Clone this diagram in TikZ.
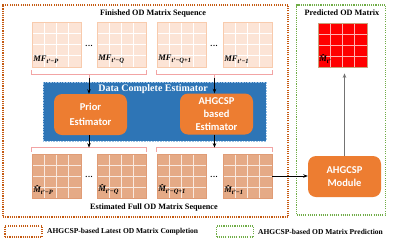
\documentclass[tikz,border=0pt]{standalone}
\usepackage{fontspec}
\setmainfont{Liberation Serif}
\newfontfamily\boxfont{Carlito}
\usetikzlibrary{arrows.meta,calc}
\definecolor{topfill}{HTML}{FCE4D6}
\definecolor{topborder}{HTML}{F8CBAD}
\definecolor{botfill}{HTML}{E5AA86}
\definecolor{botborder}{HTML}{E09C76}
\definecolor{predborder}{HTML}{C8A27C}
\definecolor{bluefill}{HTML}{2E75B6}
\definecolor{blueborder}{HTML}{9DC3E6}
\definecolor{orangebox}{HTML}{ED7D31}
\definecolor{brkcol}{HTML}{F2A4A4}
\definecolor{orangedot}{HTML}{C55A11}
\definecolor{greendot}{HTML}{70AD47}
\newcommand{\mhat}{\^{M}}
\newcommand{\lsub}[1]{\raisebox{-2pt}{\fontsize{6.5}{6.5}\selectfont #1}}
\begin{document}
\begin{tikzpicture}[x=1pt,y=-1pt,
  gridded/.style={path picture={
    \coordinate (gsw) at (path picture bounding box.south west);
    \coordinate (gne) at (path picture bounding box.north east);
    \foreach \f in {0.25,0.5,0.75}{
      \draw[#1, line width=0.7pt] ($(gsw)!\f!(gsw-|gne)$) -- ($(gsw|-gne)!\f!(gne)$);
      \draw[#1, line width=0.7pt] ($(gsw)!\f!(gsw|-gne)$) -- ($(gsw-|gne)!\f!(gne)$);
    }}},
  topmat/.style={draw=topborder, fill=topfill, line width=0.8pt, minimum width=49pt, minimum height=45pt, inner sep=0pt, gridded=white},
  botmat/.style={draw=botborder, fill=botfill, line width=0.8pt, minimum width=49pt, minimum height=44pt, inner sep=0pt, gridded=white!75!botfill},
  predmat/.style={draw=predborder, fill=red, line width=0.8pt, minimum width=49pt, minimum height=44pt, inner sep=0pt, gridded=white!70!red},
  lab/.style={anchor=south west, inner sep=1pt, font=\bfseries\itshape\fontsize{8.5}{8.5}\selectfont},
  dots/.style={font=\bfseries\fontsize{8}{8}\selectfont, inner sep=0pt},
  title/.style={font=\bfseries\fontsize{8.2}{9}\selectfont, inner sep=0pt},
  legtext/.style={font=\bfseries\fontsize{7.5}{9}\selectfont, inner sep=0pt, anchor=west},
  estbox/.style={fill=orangebox, rounded corners=8pt, minimum width=73pt, minimum height=41pt, inner sep=0pt, text=white, align=center, font=\boxfont\bfseries\fontsize{10.5}{13}\selectfont},
  brk/.style={draw=brkcol, line width=0.8pt},
  arr/.style={draw=black, line width=0.7pt, -{Stealth[length=4.5pt,width=3.5pt]}},
  outerbox/.style={line width=1.3pt, dash pattern=on 1.1pt off 1.1pt, inner sep=0pt},
]
\useasboundingbox (0,0) rectangle (399,242);
\fill[white] (0,0) rectangle (399,242);

% outer dotted regions
\node[outerbox, draw=orangedot, minimum width=285pt, minimum height=212pt] (region1) at (145.5,111) {};
\node[outerbox, draw=greendot, minimum width=89pt, minimum height=210pt] (region2) at (341,110) {};

% titles
\node[title] (t1) at (153,14) {Finished OD Matrix Sequence};
\node[title] (t2) at (342,13) {Predicted OD Matrix};
\node[title] (t3) at (154,208) {Estimated Full OD Matrix Sequence};

% top matrices
\node[topmat] (tm1) at (56.5,44.5) {};
\node[topmat] (tm2) at (121.5,44.5) {};
\node[topmat] (tm3) at (181.5,44.5) {};
\node[topmat] (tm4) at (247.5,44.5) {};
\node[lab] (lt1) at ([shift={(0.5pt,2.5pt)}]tm1.south west) {MF\lsub{t'−P}};
\node[lab] (lt2) at ([shift={(0.5pt,2.5pt)}]tm2.south west) {MF\lsub{t'−Q}};
\node[lab] (lt3) at ([shift={(0.5pt,2.5pt)}]tm3.south west) {MF\lsub{t'−Q+1}};
\node[lab] (lt4) at ([shift={(0.5pt,2.5pt)}]tm4.south west) {MF\lsub{t'−1}};
\node[dots] (d1) at (89,46) {.\kern0.6pt.\kern0.6pt.};
\node[dots] (d2) at (214,46) {.\kern0.6pt.\kern0.6pt.};

% blue estimator region
\node[fill=bluefill, draw=blueborder, densely dotted, line width=0.6pt, minimum width=223pt, minimum height=59pt, inner sep=0pt] (dce) at (154.5,111.5) {};
\node[font=\bfseries\fontsize{10}{11}\selectfont, text=white, inner sep=0pt] (dcet) at (153,89) {Data Complete Estimator};
\node[estbox] (prior) at (90.5,114.5) {Prior\\[2pt]Estimator};
\node[estbox] (ahg) at (216.5,114) {AHGCSP\\based\\Estimator};

% bottom matrices
\node[botmat] (bm1) at (56.5,176) {};
\node[botmat] (bm2) at (121.5,176) {};
\node[botmat] (bm3) at (181.5,176) {};
\node[botmat] (bm4) at (247.5,176) {};
\node[lab] (lb1) at ([shift={(0.5pt,2.5pt)}]bm1.south west) {\mhat\lsub{t'−P}};
\node[lab] (lb2) at ([shift={(0.5pt,2.5pt)}]bm2.south west) {\mhat\lsub{t'−Q}};
\node[lab] (lb3) at ([shift={(0.5pt,2.5pt)}]bm3.south west) {\mhat\lsub{t'−Q+1}};
\node[lab] (lb4) at ([shift={(0.5pt,2.5pt)}]bm4.south west) {\mhat\lsub{t'−1}};
\node[dots] (d3) at (89,177) {.\kern0.6pt.\kern0.6pt.};
\node[dots] (d4) at (214,177) {.\kern0.6pt.\kern0.6pt.};

% predicted matrix and module
\node[predmat] (pred) at (342.5,45) {};
\node[lab] (lp) at ([shift={(0.5pt,2.5pt)}]pred.south west) {\mhat\lsub{t'}};
\node[estbox] (module) at (344.5,176.5) {AHGCSP\\Module};

% top brackets
\draw[brk] ([yshift=-3pt]tm1.south west) -- ([yshift=-7pt]tm1.south west) -- ([yshift=-7pt]tm2.south east) -- ([yshift=-3pt]tm2.south east);
\coordinate (b1) at ($([yshift=-7pt]tm1.south west)!0.5!([yshift=-7pt]tm2.south east)$);
\draw[brk] (b1) -- ++(0,4) coordinate (b1e);
\draw[arr] (b1e) -- (b1e |- prior.north);
\draw[brk] ([yshift=-3pt]tm3.south west) -- ([yshift=-7pt]tm3.south west) -- ([yshift=-7pt]tm4.south east) -- ([yshift=-3pt]tm4.south east);
\coordinate (b2) at ($([yshift=-7pt]tm3.south west)!0.5!([yshift=-7pt]tm4.south east)$);
\draw[brk] (b2) -- ++(0,4) coordinate (b2e);
\draw[arr] (b2e) -- (b2e |- ahg.north);

% bottom brackets
\draw[brk] ([yshift=2pt]bm1.north west) -- ([yshift=6pt]bm1.north west) -- ([yshift=6pt]bm2.north east) -- ([yshift=2pt]bm2.north east);
\coordinate (b3) at ($([yshift=6pt]bm1.north west)!0.5!([yshift=6pt]bm2.north east)$);
\draw[arr] (b3 |- prior.south) -- (b3);
\draw[brk] ([yshift=2pt]bm3.north west) -- ([yshift=6pt]bm3.north west) -- ([yshift=6pt]bm4.north east) -- ([yshift=2pt]bm4.north east);
\coordinate (b4) at ($([yshift=6pt]bm3.north west)!0.5!([yshift=6pt]bm4.north east)$);
\draw[arr] (b4 |- ahg.south) -- (b4);

% right side connectors
\draw[arr] (bm4.east) -- (bm4.east -| module.west);
\draw[arr, draw=black!55, shorten >=6pt] (module.north) -- (module.north |- pred.south);

% legend
\node[outerbox, draw=orangedot, minimum width=37pt, minimum height=11pt] (lg1) at (23.5,231.5) {};
\node[legtext] (lt1x) at (47,231.5) {AHGCSP-based Latest OD Matrix Completion};
\node[outerbox, draw=greendot, minimum width=37pt, minimum height=11pt] (lg2) at (235,231.5) {};
\node[legtext] (lt2x) at (258,231.5) {AHGCSP-based OD Matrix Prediction};
\end{tikzpicture}
\end{document}
